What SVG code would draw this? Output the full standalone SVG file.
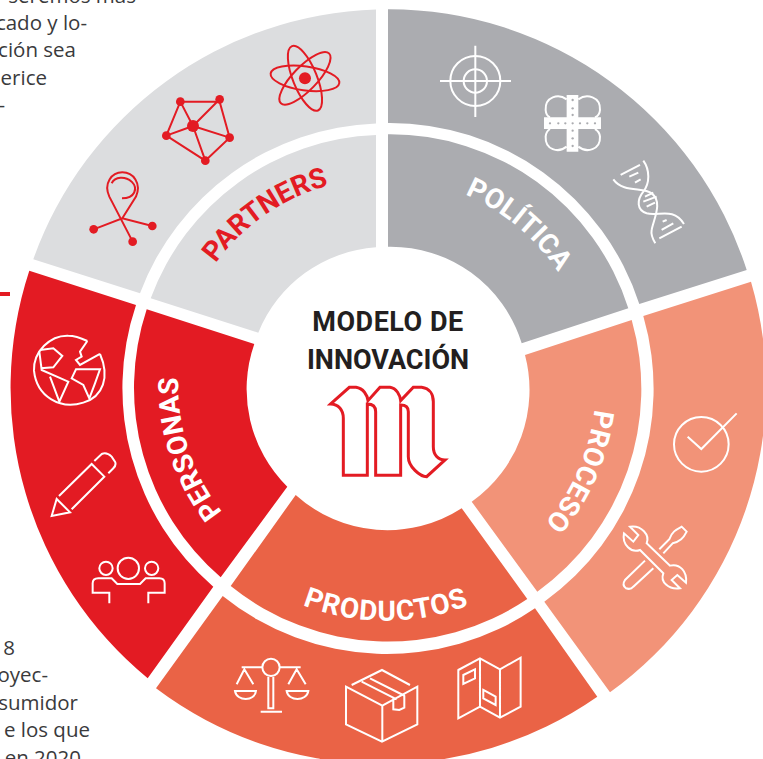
<svg xmlns="http://www.w3.org/2000/svg" width="763" height="759" viewBox="0 0 763 759">
<style>
.body{font-family:"Open Sans","Liberation Sans",sans-serif;font-size:20.5px;fill:#3a3a3c;text-anchor:end}
.lab{font-family:"Roboto","Liberation Sans",sans-serif;font-size:28px;font-weight:700;text-anchor:middle}
.ctr{font-family:"Roboto","Liberation Sans",sans-serif;font-size:27px;font-weight:700;fill:#231f20;text-anchor:middle}
.w{fill:none;stroke:#fff;stroke-width:6}
.r{fill:none;stroke:#e31b23;stroke-width:6}
.rd{fill:#e31b23}
</style>
<defs>
<path id="pPartners" d="M176 380A207 207 0 0 1 452 190"/>
<path id="pPolitica" d="M337 183A209 209 0 0 1 592 396"/>
<path id="pProceso" d="M568 279A213 213 0 0 1 431 592"/>
<path id="pPersonas" d="M320 580A205 205 0 0 1 217 265"/>
<path id="pProductos" d="M196 521A231 231 0 0 0 576 521"/>
</defs>
<rect width="763" height="759" fill="#fff"/>
<g id="text-left">
<text class="body" x="136" y="3">seremos más</text>
<text class="body" x="87" y="30">cado y lo-</text>
<text class="body" x="76" y="57">ción sea</text>
<text class="body" x="47" y="85">erice</text>
<text class="body" x="5" y="112">-</text>
<rect x="0" y="292" width="10" height="4" class="rd"/>
<text class="body" x="15" y="655">8</text>
<text class="body" x="48" y="682">oyec-</text>
<text class="body" x="78" y="710">sumidor</text>
<text class="body" x="90" y="737">e los que</text>
<text class="body" x="81" y="765">en 2020</text>
</g>
<g id="partners">
<path fill="#dcdddf" d="M376 9.5V123.5A262 262 0 0 0 140 293.3L33.3 259.3A376 376 0 0 1 376 9.5Z"/>
<path fill="#dcdddf" d="M376 135V247.3A137 137 0 0 0 258.3 332.7L150.7 298.3A250 250 0 0 1 376 135Z"/>
<text class="lab" fill="#e31b23"><textPath href="#pPartners" startOffset="50%">PARTNERS</textPath></text>
<g transform="scale(.3333)">
<ellipse class="r" cx="915" cy="235" rx="104" ry="36" transform="rotate(8 915 235)"/>
<ellipse class="r" cx="915" cy="235" rx="104" ry="36" transform="rotate(68 915 235)"/>
<ellipse class="r" cx="915" cy="235" rx="104" ry="36" transform="rotate(-46 915 235)"/>
<circle class="rd" cx="915" cy="235" r="18"/>
<path class="r" d="M541 305H659L689 413L616 482L499 407ZM579 378L541 305M579 378L659 298M579 378L689 413M579 378L616 482M579 378L499 407"/>
<circle class="rd" cx="579" cy="378" r="18"/><circle class="rd" cx="541" cy="305" r="13"/><circle class="rd" cx="659" cy="298" r="13"/><circle class="rd" cx="689" cy="413" r="13"/><circle class="rd" cx="616" cy="482" r="13"/><circle class="rd" cx="499" cy="407" r="13"/>
<path class="r" d="M398 725L328 590C310 550 335 517 367 517C400 517 425 550 408 590L367 655M281 688L367 655L457 678M335 550C345 530 375 528 395 545C415 565 405 595 366 595"/>
<circle class="rd" cx="281" cy="688" r="13"/><circle class="rd" cx="457" cy="678" r="13"/><circle class="rd" cx="398" cy="725" r="13"/>
</g>
</g>
<g id="politica">
<path fill="#abacb0" d="M388 9.3A376 376 0 0 1 746.7 270L639.3 304A262 262 0 0 0 388 123Z"/>
<path fill="#abacb0" d="M388 134.3A250 250 0 0 1 628.3 308.3L521.7 343.3A137 137 0 0 0 388 246.7Z"/>
<text class="lab" fill="#fff"><textPath href="#pPolitica" startOffset="50%">POLÍTICA</textPath></text>
<g transform="translate(380 0) scale(.3333)">
<circle class="w" cx="286" cy="243" r="75"/><circle class="w" cx="286" cy="243" r="35"/>
<path class="w" d="M286 137V351M180 243H393"/>
<path class="w" d="M560 298C535 280 495 290 497 330C498 345 505 350 510 352M595 298C620 280 662 290 660 330C659 345 650 350 645 352M560 440C535 460 495 450 497 410C498 395 505 390 510 387M595 440C620 460 662 450 660 410C659 395 650 390 645 387"/>
<path fill="#fff" d="M560 285H595V352H663V387H595V455H560V387H492V352H560Z"/>
<g fill="#abacb0"><circle cx="578" cy="300" r="3.5"/><circle cx="578" cy="325" r="3.5"/><circle cx="578" cy="345" r="3.5"/><circle cx="578" cy="392" r="3.5"/><circle cx="578" cy="415" r="3.5"/><circle cx="578" cy="438" r="3.5"/><circle cx="510" cy="370" r="3.5"/><circle cx="535" cy="370" r="3.5"/><circle cx="556" cy="370" r="3.5"/><circle cx="578" cy="370" r="3.5"/><circle cx="600" cy="370" r="3.5"/><circle cx="622" cy="370" r="3.5"/><circle cx="645" cy="370" r="3.5"/></g>
<path class="w" d="M700 538C730 580 790 560 815 580C850 605 820 660 815 690C812 705 820 720 826 730M790 482C810 510 810 550 790 575C770 600 770 630 800 640C835 650 880 620 912 672"/>
<path class="w" d="M722 525L780 495M748 530L775 518M765 548L782 538M795 590L820 578M790 605L830 590M800 620L825 608M848 665L860 660M845 690L880 670M838 715L905 680"/>
</g>
</g>
<g id="proceso">
<path fill="#f29378" d="M643.3 316L751 281.7A376 376 0 0 1 610 692.3L544.3 601.7A262 262 0 0 0 643.3 316Z"/>
<path fill="#f29378" d="M525 355L631.7 320A250 250 0 0 1 537.3 591.7L471.7 501.7A137 137 0 0 0 525 355Z"/>
<text class="lab" fill="#fff"><textPath href="#pProceso" startOffset="50%">PROCESO</textPath></text>
<g transform="translate(600 390) scale(.3333)">
<circle class="w" cx="304" cy="163" r="82"/>
<path class="w" d="M263 140L304 177L410 70"/>
<path class="w" d="M140 460C150 435 125 405 90 410L115 435L100 455L72 430C65 465 95 490 120 480L190 550C180 575 205 600 240 595L215 570L232 555L258 578C262 545 240 520 210 527L140 460Z"/>
<path class="w" d="M178 478L208 448C215 425 230 418 245 410L260 425C250 445 240 455 218 460L190 490M135 512L75 570Q65 585 78 595Q92 600 100 590L160 535"/>
</g>
</g>
<g id="productos">
<path fill="#ea6346" d="M222.7 596A262 262 0 0 0 535 608.3L597.3 696.7A376 376 0 0 1 156 688.3Z"/>
<path fill="#ea6346" d="M295.7 495A137 137 0 0 0 461.7 508.3L527.3 599A250 250 0 0 1 230.7 586Z"/>
<text class="lab" fill="#fff" letter-spacing=".8"><textPath href="#pProductos" startOffset="50%">PRODUCTOS</textPath></text>
<g transform="translate(210 640) scale(.3333)">
<circle class="w" cx="183" cy="82" r="26"/>
<path class="w" d="M95 82H157M209 82H272M175 110V205H190V110M152 215H216M80 133L103 88L130 133M235 133L260 88L287 133M75 153H138C135 185 80 185 75 153ZM230 153H295C290 185 235 185 230 153Z"/>
<path class="w" d="M408 140L517 197L622 140V253L516 305L408 253ZM517 197V305M425 135L516 90L600 135M455 125L560 178M480 115L585 168M550 175V208L568 210L583 203V168"/>
<path class="w" d="M745 90L810 55L870 88L932 53V200L870 233L810 200L745 235ZM810 55V200M870 88V233M760 105L795 88V115L760 132ZM820 150L857 170V195L820 175Z"/>
</g>
</g>
<g id="personas">
<path fill="#e31b23" d="M29.3 270.7L136 305A262 262 0 0 0 213.3 586.7L147.7 678.3A376 376 0 0 1 29.3 270.7Z"/>
<path fill="#e31b23" d="M146.7 309.3L254.3 344A137 137 0 0 0 287.3 486.7L220.7 577.3A250 250 0 0 1 146.7 309.3Z"/>
<text class="lab" fill="#fff"><textPath href="#pPersonas" startOffset="50%">PERSONAS</textPath></text>
<g transform="translate(0 280) scale(.3333)">
<path class="w" d="M300 222C330 290 310 350 250 368C180 390 110 350 102 272C100 215 150 165 205 167C225 167 245 175 262 183"/>
<path class="w" d="M120 210L160 205L187 228L160 262L122 265M118 215L125 270L205 305L178 365L150 290M215 295L228 268L300 268L285 310L268 355L250 315ZM262 183L240 215L245 230L228 240L240 255L300 222"/>
<path class="w" d="M155 708L170 657L210 697ZM177 648L275 552L313 590L215 688M283 543L305 522Q320 515 335 530L345 545Q350 555 340 565L325 580"/>
<circle class="w" cx="318" cy="865" r="20"/><circle class="w" cx="385" cy="865" r="32"/><circle class="w" cx="455" cy="865" r="20"/>
<path class="w" d="M328 970V938H278V910Q278 895 295 895H335L352 912H420L437 895H478Q494 895 494 910V938H445V970"/>
</g>
</g>
<g id="centro">
<text class="ctr" x="388" y="331" letter-spacing=".5">MODELO DE</text>
<text class="ctr" x="388" y="369">INNOVACIÓN</text>
<g transform="translate(280 290) scale(.3333)">
<path fill="#fff" stroke="#e31b23" stroke-width="9" d="M152 342L208 292H228C250 295 262 315 264 332L300 292H330C350 295 360 315 362 332L400 292H425C450 295 460 315 460 335V470C460 495 475 510 495 510L440 560C420 560 385 530 385 500V365C385 350 375 345 362 345V556H287V365C287 350 278 342 262 342V556H190V385C190 360 175 342 152 342Z"/>
</g>
</g>
</svg>
